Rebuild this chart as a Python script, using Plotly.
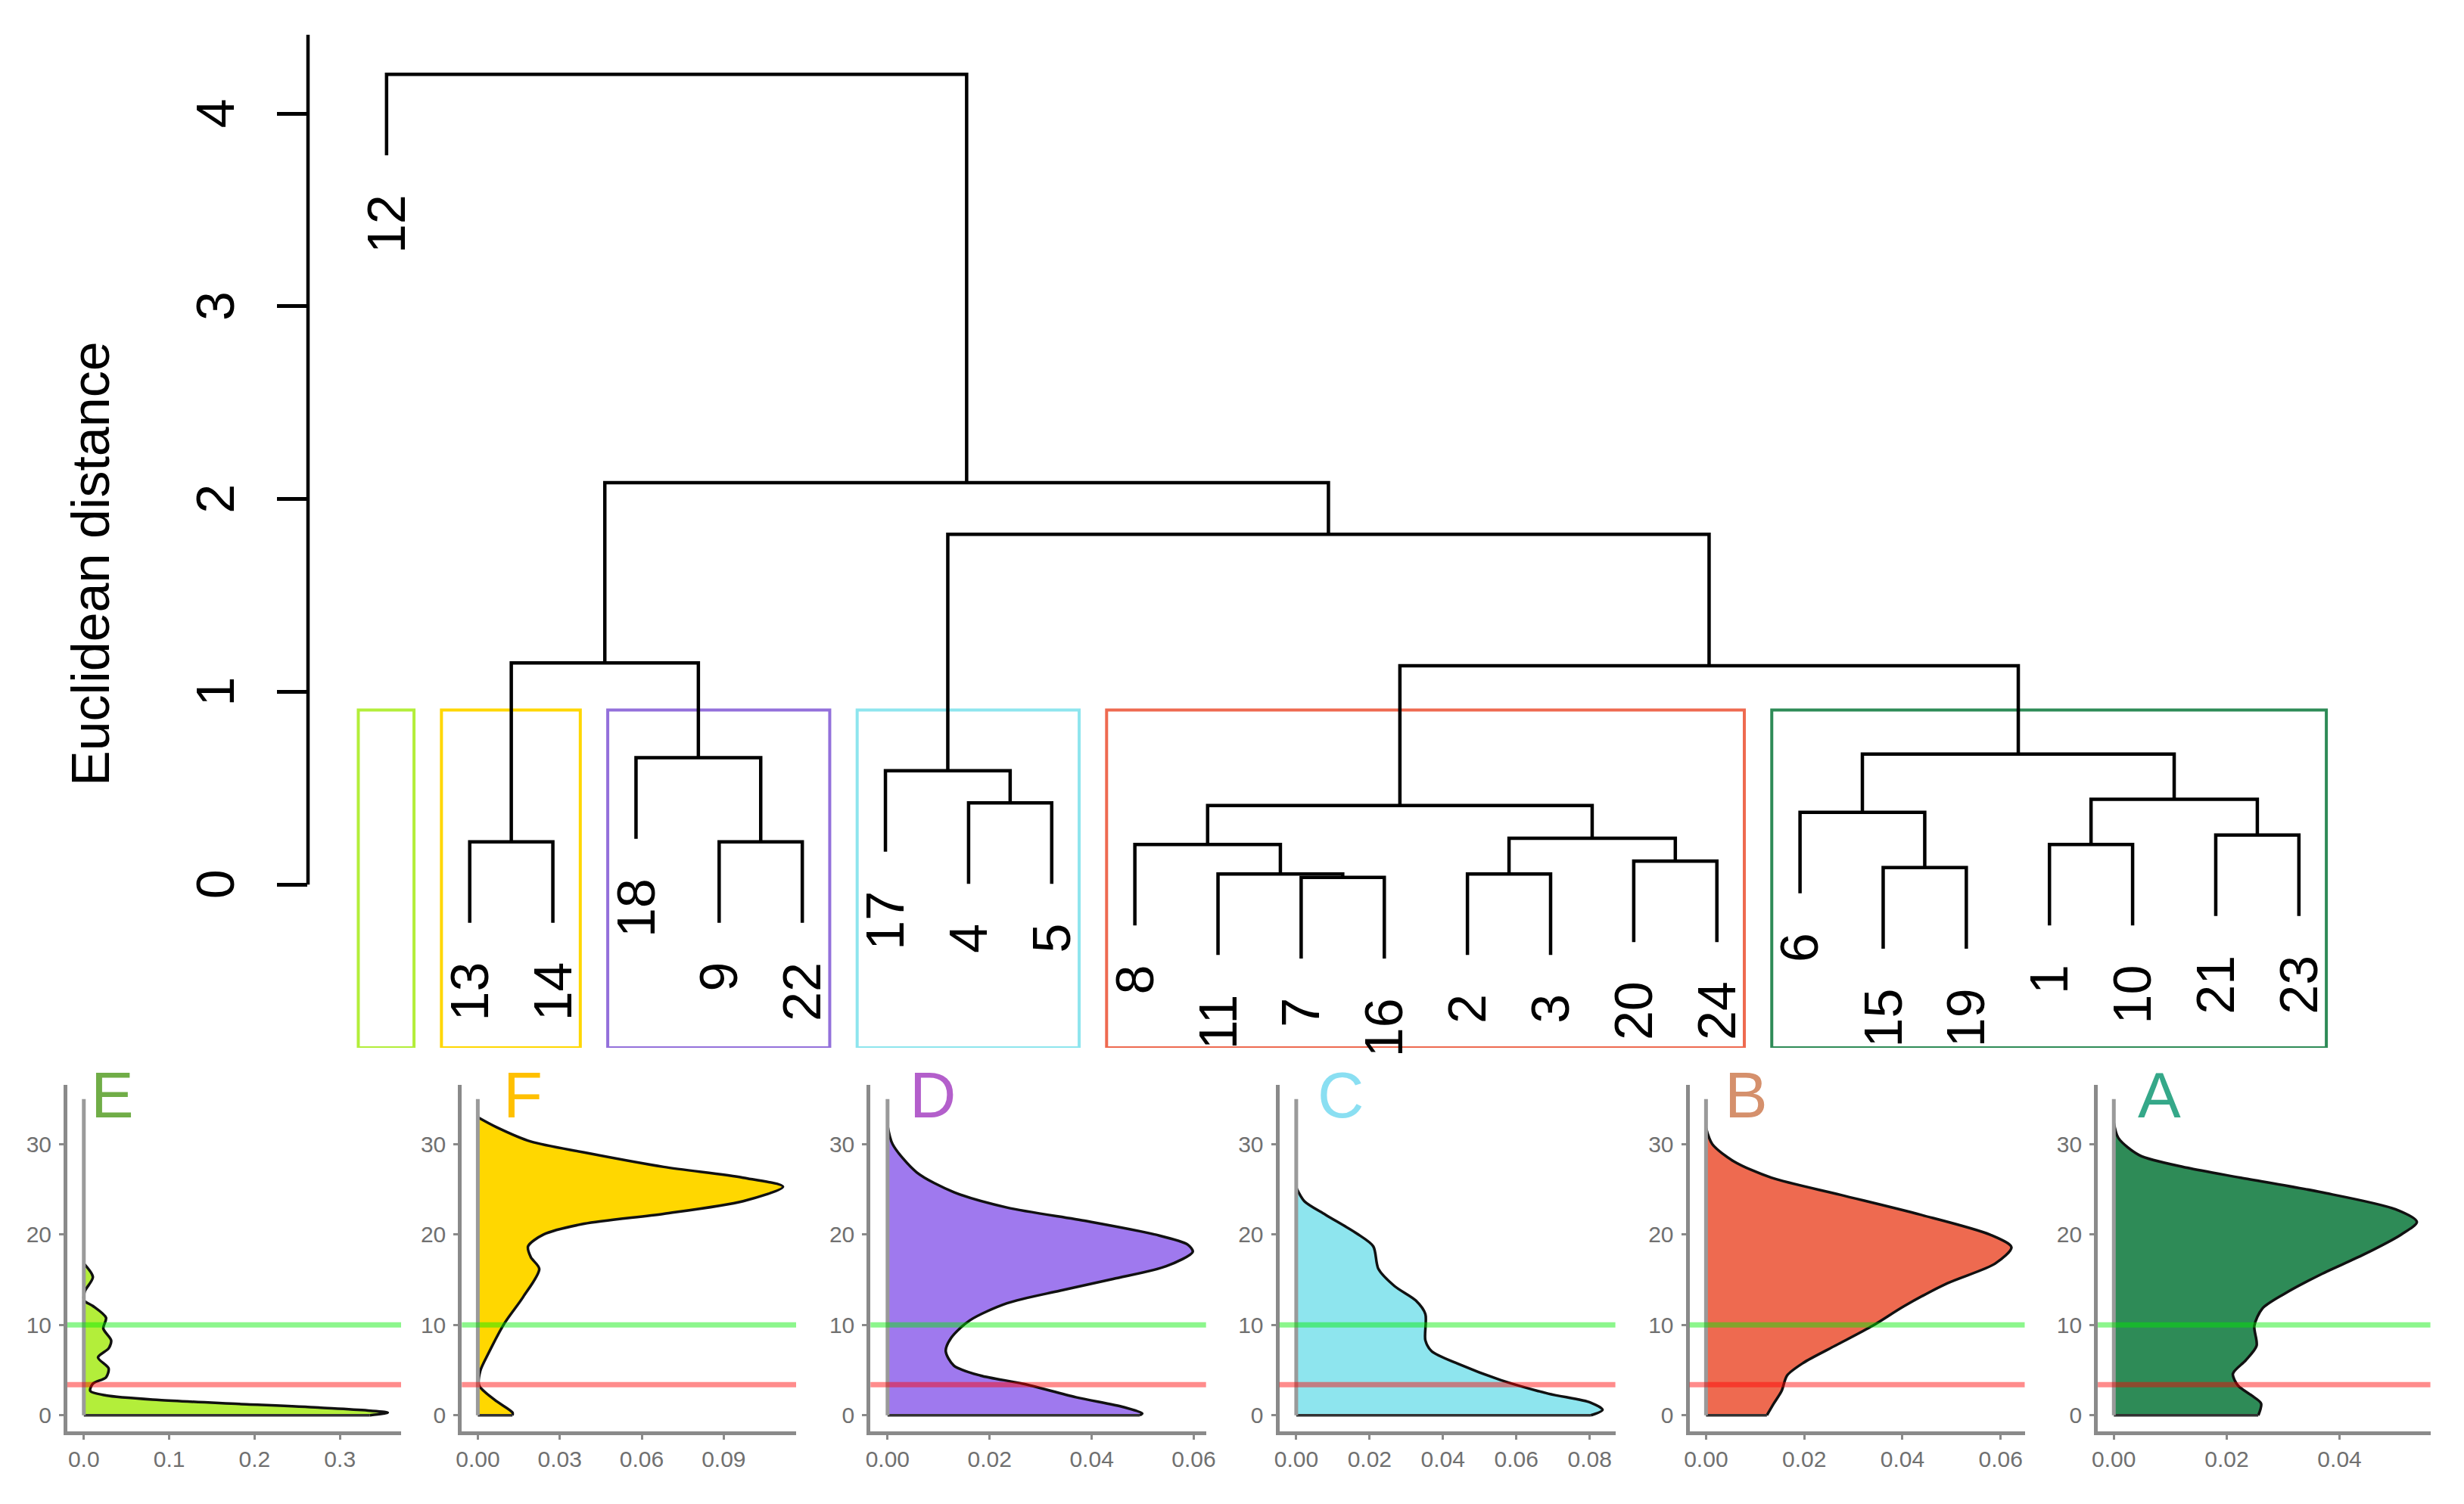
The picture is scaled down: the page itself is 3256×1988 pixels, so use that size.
import plotly.graph_objects as go

W, H = 3256, 1988          # browser window
PAGE_MARGIN = 8            # default <body> margin around the plot div
FW, FH = W - 2 * PAGE_MARGIN, H - 2 * PAGE_MARGIN
FONT = "Liberation Sans, Arial, sans-serif"


def fx(p):  # page pixel -> paper x
    return (p - PAGE_MARGIN) / FW


def fy(p):  # page pixel -> paper y
    return 1 - (p - PAGE_MARGIN) / FH


# ---------------- dendrogram data ----------------
leaf_labels = ["12", "13", "14", "18", "9", "22", "17", "4", "5", "8", "11", "7", "16",
               "2", "3", "20", "24", "6", "15", "19", "1", "10", "21", "23"]
# R-style merge table: negative = leaf position (1-based, left to right), positive = earlier merge
merge_left = [-12, -11, -14, -19, -16, -10, -21, -2, -5, 3, -23, -18, 6, -8, 7, -7, -4, 12, 13, 8, 16, 20, -1]
merge_right = [-13, 1, -15, -20, -17, 2, -22, -3, -6, 5, -24, 4, 10, -9, 11, 14, 9, 15, 18, 17, 19, 21, 22]
merge_height = [0.037, 0.055, 0.055, 0.088, 0.122, 0.208, 0.208, 0.222, 0.222, 0.240, 0.257, 0.375,
                0.410, 0.424, 0.442, 0.591, 0.658, 0.677, 1.135, 1.150, 1.817, 2.085, 4.204]
dist_ticks = [0, 1, 2, 3, 4]

cluster_names = ["E", "F", "D", "C", "B", "A"]
cluster_sizes = [1, 2, 3, 3, 8, 7]
box_colors = ["#B3EE3A", "#FFD700", "#9370DB", "#8EE5EE", "#EE6A50", "#2E8B57"]
fill_colors = ["#B3EE3A", "#FFD700", "#9F79EE", "#8EE5EE", "#EE6A50", "#2E8B57"]
title_colors = ["#70AD47", "#FFC000", "#B35FCB", "#8ADFF2", "#D5906C", "#35A889"]

# ---------------- density data (value on vertical axis, density horizontal) ----------------
E_y = [0, 0.3, 0.85, 1.26, 1.7, 2.2, 2.7, 3.5, 4.2, 5.2, 6.4, 7.4, 8.3, 9.6, 10.8, 12.1, 12.7, 13.7, 15.3, 16.8]
E_d = [0.335, 0.356, 0.275, 0.182, 0.088, 0.026, 0.0075, 0.0106, 0.026, 0.029, 0.0166, 0.029, 0.032,
       0.0228, 0.026, 0.0106, 0.0005, 0.001, 0.0106, 0.0]
F_y = [0, 0.3, 1.7, 3.3, 4.9, 6.8, 10.2, 13.1, 16.2, 17.5, 18.7, 20.0, 21.2, 22.3, 23.7, 25.3, 26.3,
       27.5, 29.1, 30.3, 31.9, 33.0]
F_d = [0.0127, 0.0127, 0.0062, 0.0005, 0.0009, 0.0038, 0.0098, 0.0166, 0.0225, 0.0194, 0.0184, 0.0240,
       0.0389, 0.068, 0.0971, 0.1117, 0.0971, 0.068, 0.0389, 0.0194, 0.0068, 0.0]
D_y = [0, 0.2, 0.9, 2.0, 3.5, 4.4, 5.5, 7.1, 8.6, 10.5, 12.4, 13.8, 15.1, 16.5, 18.1, 18.9, 20.0, 21.5,
       23.0, 24.7, 26.9, 30.0, 32.1]
D_d = [0.0494, 0.0499, 0.0463, 0.0369, 0.0265, 0.0182, 0.013, 0.0114, 0.0125, 0.0161, 0.0234, 0.0338,
       0.0442, 0.0546, 0.0598, 0.0588, 0.0525, 0.039, 0.0234, 0.013, 0.0057, 0.001, 0.0]
C_y = [0, 0.6, 1.4, 2.4, 3.9, 5.7, 7.1, 8.3, 11.2, 12.7, 14.3, 16.2, 18.7, 20.1, 22.2, 23.7, 25.2]
C_d = [0.0803, 0.0835, 0.0803, 0.0687, 0.0557, 0.0441, 0.0369, 0.0352, 0.0352, 0.0326, 0.0268, 0.0224,
       0.021, 0.0166, 0.008, 0.0022, 0.0]
B_y = [0, 1.3, 2.7, 4.4, 5.8, 7.7, 9.9, 12.1, 14.6, 16.8, 18.6, 20.0, 22.2, 24.4, 26.3, 28.1, 30.0, 31.8]
B_d = [0.0124, 0.0138, 0.0154, 0.0165, 0.0198, 0.0263, 0.0339, 0.0404, 0.0491, 0.0589, 0.0622, 0.0578,
       0.0437, 0.0274, 0.0133, 0.0057, 0.0013, 0.0]
A_y = [0, 1.3, 2.2, 3.3, 4.6, 6.1, 7.7, 9.9, 11.8, 13.4, 15.6, 17.8, 20.0, 21.4, 22.8, 24.7, 26.3, 27.4,
       28.8, 30.7, 32.4]
A_d = [0.0256, 0.0261, 0.0244, 0.022, 0.0211, 0.0234, 0.0253, 0.0249, 0.0263, 0.0301, 0.0367, 0.0443,
       0.0509, 0.0537, 0.0499, 0.0367, 0.0225, 0.013, 0.0045, 0.0008, 0.0]
density_y = [E_y, F_y, D_y, C_y, B_y, A_y]
density_d = [E_d, F_d, D_d, C_d, B_d, A_d]
data_top = 35.0

x_tickvals = [[0, 0.1, 0.2, 0.3], [0, 0.03, 0.06, 0.09], [0, 0.02, 0.04, 0.06],
              [0, 0.02, 0.04, 0.06, 0.08], [0, 0.02, 0.04, 0.06], [0, 0.02, 0.04]]
x_ticktext = [["0.0", "0.1", "0.2", "0.3"], ["0.00", "0.03", "0.06", "0.09"],
              ["0.00", "0.02", "0.04", "0.06"], ["0.00", "0.02", "0.04", "0.06", "0.08"],
              ["0.00", "0.02", "0.04", "0.06"], ["0.00", "0.02", "0.04"]]
y_tickvals = [0, 10, 20, 30]
green_level = 10
red_level = 3.4

# ---------------- layout constants (page pixels) ----------------
dend_left_px, dend_right_px = 407, 3147.7
dend_top_px, dend_bot_px = 45.7, 1385
dend_xrange = [0.055, 25]
dend_yrange = [-0.847, 4.41]

panel_left_px = [89, 610.3, 1150.3, 1690.5, 2232.5, 2772.1]
panel_right_px = [530, 1052, 1593.7, 2134.6, 2675.5, 3211.6]
panel_xranges = [[-0.0193, 0.3716], [-0.00584, 0.1165], [-0.00334, 0.0624],
                 [-0.00462, 0.087], [-0.00337, 0.0649], [-0.00284, 0.0561]]
panel_top_px, panel_bot_px = 1433.7, 1892
panel_yrange = [-1.78, 36.6]
title_left_px = [118, 663, 1200, 1739, 2277, 2823]
title_mid_px = 1447

fig = go.Figure()

# ---------------- dendrogram ----------------
hang = 0.1 * max(merge_height)
x_node = {}
leaf_end = {}
seg_x, seg_y = [], []
for i, (a, b, h) in enumerate(zip(merge_left, merge_right, merge_height), start=1):
    pts = []
    for c in (a, b):
        if c < 0:
            leaf_end[-c] = h - hang
            pts.append((-c, h - hang))
        else:
            pts.append((x_node[c], merge_height[c - 1]))
    (xa, ya), (xb, yb) = pts
    seg_x += [xa, xa, xb, xb, None]
    seg_y += [ya, h, h, yb, None]
    x_node[i] = (xa + xb) / 2

fig.add_trace(go.Scatter(x=seg_x, y=seg_y, mode="lines", line=dict(color="black", width=4.5),
                         xaxis="x", yaxis="y", hoverinfo="skip", showlegend=False))

annotations = []
for pos, lab in enumerate(leaf_labels, start=1):
    annotations.append(dict(x=pos, y=leaf_end[pos], xref="x", yref="y", text=lab, showarrow=False,
                            textangle=-90, xanchor="center", yanchor="top", yshift=-50,
                            font=dict(family=FONT, size=70, color="black")))

for t in dist_ticks:
    annotations.append(dict(x=fx(285), y=t, xref="paper", yref="y", text=str(t), showarrow=False,
                            textangle=-90, xanchor="center", yanchor="middle",
                            font=dict(family=FONT, size=70, color="black")))
annotations.append(dict(x=fx(120), y=fy(745), xref="paper", yref="paper", text="Euclidean distance",
                        showarrow=False, textangle=-90, xanchor="center", yanchor="middle",
                        font=dict(family=FONT, size=70, color="black")))

shapes = []
shapes.append(dict(type="line", xref="x domain", yref="y", x0=0, x1=0, y0=0, y1=dend_yrange[1],
                   line=dict(color="black", width=4.5)))

# cluster rectangles (rect.hclust style)
heights_desc = sorted(merge_height, reverse=True)
k = len(cluster_sizes)
box_top = (heights_desc[k - 2] + heights_desc[k - 1]) / 2
start = 1
for size, col in zip(cluster_sizes, box_colors):
    shapes.append(dict(type="rect", xref="x", yref="y", x0=start - 0.34, x1=start + size - 1 + 0.33,
                       y0=dend_yrange[0], y1=box_top, line=dict(color=col, width=4),
                       fillcolor="rgba(0,0,0,0)", layer="below"))
    start += size

layout = dict(
    width=FW, height=FH, margin=dict(l=0, r=0, t=0, b=0, autoexpand=False),
    paper_bgcolor="white", plot_bgcolor="white", showlegend=False,
    xaxis=dict(domain=[fx(dend_left_px), fx(dend_right_px)], range=dend_xrange, visible=False,
               anchor="y", automargin=False),
    yaxis=dict(domain=[fy(dend_bot_px), fy(dend_top_px)], range=dend_yrange, anchor="x",
               tickvals=dist_ticks, ticks="outside", ticklen=40, tickwidth=4.5, tickcolor="black",
               showticklabels=False, showline=False, showgrid=False, zeroline=False, automargin=False),
)

# ---------------- density panels ----------------
for i in range(6):
    n = i + 2
    xa, ya = f"x{n}", f"y{n}"
    layout[f"xaxis{n}"] = dict(
        domain=[fx(panel_left_px[i]), fx(panel_right_px[i])], range=panel_xranges[i], anchor=ya,
        showline=True, linecolor="#8a8a8a", linewidth=5, ticks="outside", ticklen=6, tickwidth=3,
        tickcolor="#8a8a8a", tickvals=x_tickvals[i], ticktext=x_ticktext[i],
        tickfont=dict(family=FONT, size=30, color="#707070"), ticklabelstandoff=0,
        showgrid=False, zeroline=False, automargin=False)
    layout[f"yaxis{n}"] = dict(
        domain=[fy(panel_bot_px), fy(panel_top_px)], range=panel_yrange, anchor=xa,
        showline=True, linecolor="#8a8a8a", linewidth=5, ticks="outside", ticklen=6, tickwidth=3,
        tickcolor="#8a8a8a", tickvals=y_tickvals, ticktext=[str(v) for v in y_tickvals],
        tickfont=dict(family=FONT, size=30, color="#707070"), ticklabelstandoff=4,
        showgrid=False, zeroline=False, automargin=False)

    dy, dd = density_y[i], density_d[i]
    fig.add_trace(go.Scatter(x=dd, y=dy, mode="lines", fill="tozerox", fillcolor=fill_colors[i],
                             line=dict(color="#111111", width=3.5, shape="spline", smoothing=0.8),
                             xaxis=xa, yaxis=ya, hoverinfo="skip", showlegend=False))
    # baseline of the density polygon
    fig.add_trace(go.Scatter(x=[0, dd[0]], y=[0, 0], mode="lines", line=dict(color="#333333", width=3.5),
                             xaxis=xa, yaxis=ya, hoverinfo="skip", showlegend=False))
    # zero line spanning the data range
    fig.add_trace(go.Scatter(x=[0, 0], y=[0, data_top], mode="lines", line=dict(color="#9a9a9a", width=5),
                             xaxis=xa, yaxis=ya, hoverinfo="skip", showlegend=False))

    shapes.append(dict(type="line", xref=f"{xa} domain", yref=ya, x0=0, x1=1, y0=green_level,
                       y1=green_level, line=dict(color="rgba(0,235,0,0.45)", width=7)))
    shapes.append(dict(type="line", xref=f"{xa} domain", yref=ya, x0=0, x1=1, y0=red_level,
                       y1=red_level, line=dict(color="rgba(255,0,0,0.45)", width=7)))

    annotations.append(dict(x=fx(title_left_px[i]), y=fy(title_mid_px), xref="paper", yref="paper",
                            text=cluster_names[i], showarrow=False, xanchor="left", yanchor="middle",
                            font=dict(family=FONT, size=85, color=title_colors[i])))

layout["shapes"] = shapes
layout["annotations"] = annotations
fig.update_layout(**layout)

fig.write_html("out.html")
